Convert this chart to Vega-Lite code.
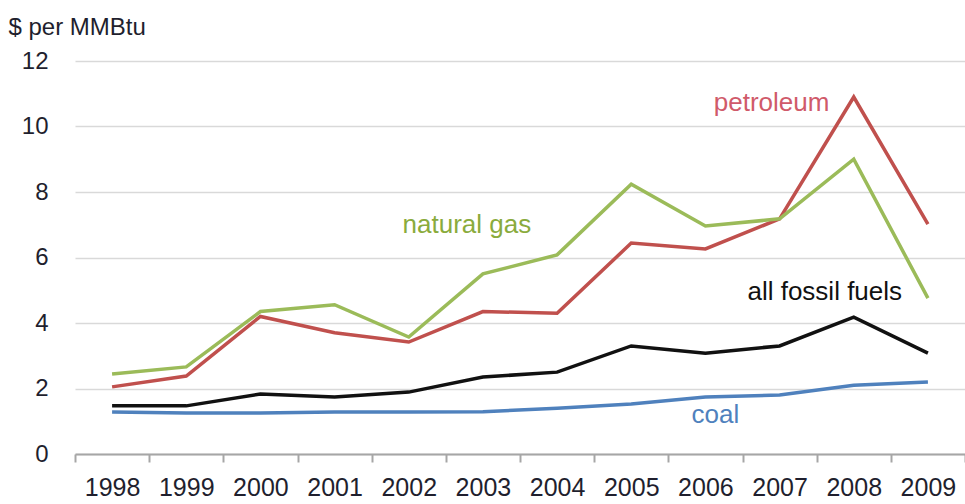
{
  "$schema": "https://vega.github.io/schema/vega-lite/v6.json",
  "autosize": "none",
  "width": 890,
  "height": 393,
  "padding": {"left": 75, "top": 61, "right": 0, "bottom": 50},
  "background": "white",
  "config": {
    "view": {"stroke": null},
    "font": "Liberation Sans",
    "axis": {"labelFont": "Liberation Sans", "labelColor": "#1f1f2e", "titleFont": "Liberation Sans"}
  },
  "datasets": {
    "prices": [
      {"year": "1998", "series": "petroleum", "value": 2.05},
      {"year": "1999", "series": "petroleum", "value": 2.38},
      {"year": "2000", "series": "petroleum", "value": 4.2},
      {"year": "2001", "series": "petroleum", "value": 3.7},
      {"year": "2002", "series": "petroleum", "value": 3.42},
      {"year": "2003", "series": "petroleum", "value": 4.35},
      {"year": "2004", "series": "petroleum", "value": 4.3},
      {"year": "2005", "series": "petroleum", "value": 6.44},
      {"year": "2006", "series": "petroleum", "value": 6.26},
      {"year": "2007", "series": "petroleum", "value": 7.18},
      {"year": "2008", "series": "petroleum", "value": 10.9},
      {"year": "2009", "series": "petroleum", "value": 7.02},
      {"year": "1998", "series": "natural gas", "value": 2.44},
      {"year": "1999", "series": "natural gas", "value": 2.66},
      {"year": "2000", "series": "natural gas", "value": 4.35},
      {"year": "2001", "series": "natural gas", "value": 4.56},
      {"year": "2002", "series": "natural gas", "value": 3.57},
      {"year": "2003", "series": "natural gas", "value": 5.5},
      {"year": "2004", "series": "natural gas", "value": 6.08},
      {"year": "2005", "series": "natural gas", "value": 8.24},
      {"year": "2006", "series": "natural gas", "value": 6.96},
      {"year": "2007", "series": "natural gas", "value": 7.18},
      {"year": "2008", "series": "natural gas", "value": 9.0},
      {"year": "2009", "series": "natural gas", "value": 4.76},
      {"year": "1998", "series": "all fossil fuels", "value": 1.47},
      {"year": "1999", "series": "all fossil fuels", "value": 1.47},
      {"year": "2000", "series": "all fossil fuels", "value": 1.83},
      {"year": "2001", "series": "all fossil fuels", "value": 1.74},
      {"year": "2002", "series": "all fossil fuels", "value": 1.89},
      {"year": "2003", "series": "all fossil fuels", "value": 2.35},
      {"year": "2004", "series": "all fossil fuels", "value": 2.5},
      {"year": "2005", "series": "all fossil fuels", "value": 3.3},
      {"year": "2006", "series": "all fossil fuels", "value": 3.08},
      {"year": "2007", "series": "all fossil fuels", "value": 3.3},
      {"year": "2008", "series": "all fossil fuels", "value": 4.18},
      {"year": "2009", "series": "all fossil fuels", "value": 3.08},
      {"year": "1998", "series": "coal", "value": 1.28},
      {"year": "1999", "series": "coal", "value": 1.25},
      {"year": "2000", "series": "coal", "value": 1.25},
      {"year": "2001", "series": "coal", "value": 1.28},
      {"year": "2002", "series": "coal", "value": 1.28},
      {"year": "2003", "series": "coal", "value": 1.29},
      {"year": "2004", "series": "coal", "value": 1.4},
      {"year": "2005", "series": "coal", "value": 1.53},
      {"year": "2006", "series": "coal", "value": 1.74},
      {"year": "2007", "series": "coal", "value": 1.8},
      {"year": "2008", "series": "coal", "value": 2.1},
      {"year": "2009", "series": "coal", "value": 2.2}
    ]
  },
  "layer": [
    {
      "data": {"name": "prices"},
      "mark": {"type": "line", "strokeWidth": 3.5, "interpolate": "linear"},
      "encoding": {
        "x": {
          "field": "year", "type": "ordinal",
          "scale": {"paddingInner": 0, "paddingOuter": 0},
          "axis": {
            "title": null, "labelAngle": 0, "labelFontSize": 25, "labelPadding": 13,
            "tickBand": "extent", "tickSize": 8, "tickColor": "#a6a6a6", "tickWidth": 2,
            "domainColor": "#a6a6a6", "domainWidth": 2, "grid": false
          }
        },
        "y": {
          "field": "value", "type": "quantitative",
          "scale": {"domain": [0, 12], "nice": false},
          "axis": {
            "values": [0, 2, 4, 6, 8, 10, 12],
            "title": "$ per MMBtu", "titleAngle": 0, "titleAlign": "left", "titleBaseline": "alphabetic",
            "titleX": -67, "titleY": -27, "titleFontSize": 24, "titleFontWeight": "normal", "titleColor": "#1f1f2e",
            "labelFontSize": 24, "labelPadding": 27, "ticks": false, "domain": false,
            "grid": true, "gridColor": "#d9d9d9", "gridWidth": 1.5
          }
        },
        "color": {
          "field": "series", "type": "nominal",
          "scale": {"domain": ["petroleum", "natural gas", "all fossil fuels", "coal"], "range": ["#c0504d", "#9bbb59", "#111111", "#4f81bd"]},
          "legend": null
        },
        "order": {"field": "year"}
      }
    },
    {
      "data": {"values": [{"year": "2007", "value": 10.72, "label": "petroleum"}]},
      "mark": {"type": "text", "fontSize": 26, "color": "#d05a6a", "align": "center", "baseline": "middle", "dx": -8},
      "encoding": {"x": {"field": "year", "type": "ordinal"}, "y": {"field": "value", "type": "quantitative"}, "text": {"field": "label"}}
    },
    {
      "data": {"values": [{"year": "2003", "value": 6.99, "label": "natural gas"}]},
      "mark": {"type": "text", "fontSize": 26, "color": "#8aab3c", "align": "center", "baseline": "middle", "dx": -16},
      "encoding": {"x": {"field": "year", "type": "ordinal"}, "y": {"field": "value", "type": "quantitative"}, "text": {"field": "label"}}
    },
    {
      "data": {"values": [{"year": "2008", "value": 4.95, "label": "all fossil fuels"}]},
      "mark": {"type": "text", "fontSize": 26, "color": "#111111", "align": "center", "baseline": "middle", "dx": -29},
      "encoding": {"x": {"field": "year", "type": "ordinal"}, "y": {"field": "value", "type": "quantitative"}, "text": {"field": "label"}}
    },
    {
      "data": {"values": [{"year": "2006", "value": 1.19, "label": "coal"}]},
      "mark": {"type": "text", "fontSize": 26, "color": "#4f81bd", "align": "center", "baseline": "middle", "dx": 10},
      "encoding": {"x": {"field": "year", "type": "ordinal"}, "y": {"field": "value", "type": "quantitative"}, "text": {"field": "label"}}
    }
  ]
}
